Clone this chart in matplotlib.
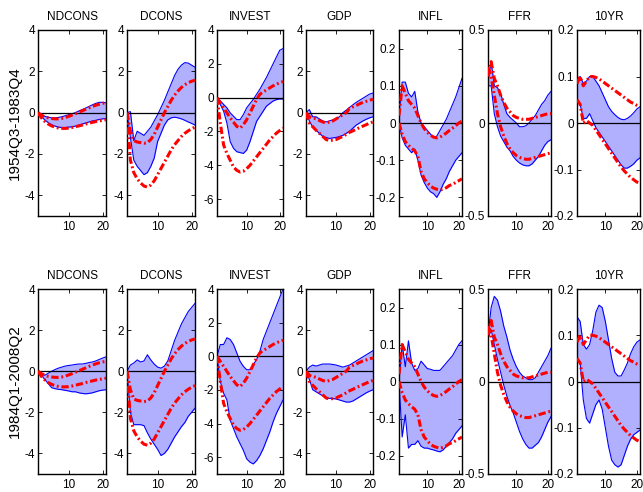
import numpy as np
import matplotlib
matplotlib.use("Agg")
import matplotlib.pyplot as plt
from matplotlib.ticker import FuncFormatter

plt.rcParams['font.family'] = ['Liberation Sans', 'DejaVu Sans']
plt.rcParams['axes.unicode_minus'] = False

# horizon
h = list(range(1, 22))

titles = ["NDCONS", "DCONS", "INVEST", "GDP", "INFL", "FFR", "10YR"]
row_labels = ["1954Q3-1983Q4", "1984Q1-2008Q2"]

# --- model IRFs (red dash-dot, same in both rows) ---
ndcons_red_hi = [0, -0.12, -0.2, -0.25, -0.28, -0.3, -0.3, -0.28, -0.24, -0.18, -0.12, -0.05, 0.02, 0.09, 0.16, 0.23, 0.3, 0.36, 0.41, 0.45, 0.48]
ndcons_red_lo = [0, -0.25, -0.42, -0.55, -0.64, -0.7, -0.74, -0.76, -0.76, -0.75, -0.72, -0.68, -0.64, -0.6, -0.55, -0.51, -0.47, -0.43, -0.4, -0.37, -0.34]
dcons_red_hi = [0, -0.9, -1.35, -1.42, -1.45, -1.48, -1.45, -1.3, -1.05, -0.7, -0.35, 0.0, 0.3, 0.6, 0.85, 1.05, 1.22, 1.35, 1.45, 1.52, 1.57]
dcons_red_lo = [0, -2.3, -2.9, -3.2, -3.4, -3.55, -3.6, -3.5, -3.3, -3.0, -2.7, -2.4, -2.1, -1.8, -1.55, -1.35, -1.15, -1.0, -0.88, -0.78, -0.7]
invest_red_hi = [0, -0.3, -0.6, -0.9, -1.2, -1.45, -1.7, -1.8, -1.6, -1.3, -0.9, -0.5, -0.1, 0.2, 0.35, 0.45, 0.58, 0.7, 0.8, 0.88, 0.95]
invest_red_lo = [0, -1.5, -2.8, -3.3, -3.7, -4.1, -4.3, -4.4, -4.35, -4.2, -4.0, -3.75, -3.5, -3.25, -3.0, -2.75, -2.5, -2.3, -2.1, -1.95, -1.8]
gdp_red_hi = [0, -0.2, -0.25, -0.3, -0.38, -0.45, -0.5, -0.45, -0.4, -0.3, -0.2, -0.1, 0.0, 0.2, 0.28, 0.35, 0.43, 0.5, 0.55, 0.6, 0.65]
gdp_red_lo = [0, -0.5, -0.68, -0.85, -1.0, -1.15, -1.3, -1.35, -1.33, -1.3, -1.22, -1.15, -1.05, -0.95, -0.88, -0.8, -0.72, -0.65, -0.58, -0.5, -0.45]
infl_red_hi = [0.02, 0.1, 0.08, 0.06, 0.05, 0.04, 0.02, 0.0, -0.015, -0.025, -0.033, -0.038, -0.04, -0.038, -0.033, -0.027, -0.02, -0.014, -0.007, 0.0, 0.005]
infl_red_lo = [0.0, -0.03, -0.05, -0.06, -0.068, -0.075, -0.09, -0.13, -0.15, -0.16, -0.17, -0.175, -0.178, -0.18, -0.178, -0.174, -0.168, -0.165, -0.16, -0.155, -0.15]
ffr_red_hi = [0.25, 0.33, 0.24, 0.2, 0.15, 0.11, 0.08, 0.06, 0.04, 0.03, 0.025, 0.02, 0.02, 0.02, 0.025, 0.03, 0.035, 0.04, 0.045, 0.05, 0.05]
ffr_red_lo = [0.3, 0.25, 0.15, 0.05, -0.02, -0.07, -0.11, -0.14, -0.16, -0.175, -0.185, -0.19, -0.195, -0.195, -0.19, -0.185, -0.18, -0.175, -0.17, -0.165, -0.16]
tenyr_red_hi = [0.085, 0.1, 0.08, 0.09, 0.1, 0.1, 0.098, 0.095, 0.09, 0.085, 0.08, 0.075, 0.07, 0.065, 0.06, 0.055, 0.05, 0.045, 0.042, 0.038, 0.035]
tenyr_red_lo = [0.05, 0.04, 0.0, 0.005, 0.0, -0.005, -0.015, -0.025, -0.035, -0.045, -0.055, -0.065, -0.075, -0.085, -0.095, -0.103, -0.11, -0.117, -0.122, -0.127, -0.13]

# --- VAR bands, 1954Q3-1983Q4 ---
ndcons_r1_hi = [0, -0.1, -0.18, -0.22, -0.25, -0.25, -0.23, -0.2, -0.15, -0.1, -0.05, 0.0, 0.08, 0.15, 0.22, 0.3, 0.38, 0.45, 0.5, 0.5, 0.48]
ndcons_r1_lo = [0, -0.2, -0.35, -0.48, -0.58, -0.65, -0.7, -0.72, -0.72, -0.7, -0.68, -0.65, -0.6, -0.55, -0.5, -0.45, -0.4, -0.37, -0.33, -0.3, -0.28]
dcons_r1_hi = [0, 0.05, -1.35, -0.9, -1.0, -1.1, -0.9, -0.7, -0.4, -0.1, 0.25, 0.6, 1.0, 1.4, 1.8, 2.1, 2.3, 2.42, 2.4, 2.3, 2.2]
dcons_r1_lo = [0, -1.2, -2.3, -2.6, -2.8, -3.0, -2.9, -2.6, -2.2, -1.4, -1.0, -0.6, -0.35, -0.25, -0.22, -0.25, -0.3, -0.37, -0.45, -0.52, -0.6]
invest_r1_hi = [0, -0.2, -0.4, -0.6, -0.9, -1.1, -1.3, -1.3, -1.0, -0.6, -0.35, -0.1, 0.2, 0.5, 0.85, 1.2, 1.6, 2.0, 2.4, 2.8, 2.9]
invest_r1_lo = [0, -0.4, -0.8, -1.5, -2.6, -3.0, -3.2, -3.25, -3.3, -3.1, -2.6, -2.0, -1.4, -1.1, -0.8, -0.5, -0.35, -0.2, -0.12, -0.08, -0.08]
gdp_r1_hi = [0, 0.15, -0.2, -0.2, -0.3, -0.4, -0.45, -0.4, -0.35, -0.28, -0.2, 0.0, 0.12, 0.25, 0.38, 0.5, 0.6, 0.7, 0.8, 0.9, 0.95]
gdp_r1_lo = [0, -0.4, -0.7, -0.85, -1.0, -1.15, -1.2, -1.25, -1.22, -1.2, -1.15, -1.1, -1.0, -0.9, -0.75, -0.6, -0.5, -0.4, -0.32, -0.25, -0.2]
infl_r1_hi = [0.02, 0.11, 0.11, 0.08, 0.07, 0.085, 0.03, 0.0, -0.01, -0.02, -0.03, -0.04, -0.035, -0.02, -0.005, 0.01, 0.03, 0.05, 0.07, 0.095, 0.12]
infl_r1_lo = [0.0, -0.04, -0.06, -0.07, -0.08, -0.07, -0.1, -0.14, -0.16, -0.175, -0.185, -0.19, -0.2, -0.185, -0.165, -0.15, -0.13, -0.115, -0.1, -0.09, -0.08]
ffr_r1_hi = [0.22, 0.33, 0.2, 0.19, 0.16, 0.1, 0.05, 0.03, 0.015, 0.0, -0.02, -0.02, -0.015, 0.0, 0.02, 0.04, 0.07, 0.1, 0.12, 0.15, 0.17]
ffr_r1_lo = [0.2, 0.2, 0.05, -0.02, -0.07, -0.1, -0.13, -0.15, -0.18, -0.2, -0.215, -0.225, -0.23, -0.23, -0.22, -0.2, -0.18, -0.15, -0.12, -0.1, -0.09]
tenyr_r1_hi = [0.09, 0.1, 0.085, 0.09, 0.1, 0.1, 0.09, 0.08, 0.065, 0.05, 0.035, 0.025, 0.018, 0.012, 0.008, 0.007, 0.01, 0.015, 0.022, 0.03, 0.035]
tenyr_r1_lo = [0.045, 0.04, 0.01, 0.01, 0.02, 0.005, -0.01, -0.02, -0.03, -0.04, -0.05, -0.06, -0.07, -0.08, -0.09, -0.097, -0.097, -0.093, -0.088, -0.08, -0.075]

# --- VAR bands, 1984Q1-2008Q2 ---
ndcons_r2_hi = [0, -0.1, -0.2, -0.1, 0.0, 0.08, 0.15, 0.2, 0.25, 0.28, 0.3, 0.33, 0.35, 0.35, 0.38, 0.42, 0.45, 0.5, 0.57, 0.64, 0.7]
ndcons_r2_lo = [0, -0.2, -0.4, -0.6, -0.8, -0.85, -0.88, -0.9, -0.93, -0.96, -1.0, -1.0, -1.05, -1.08, -1.1, -1.08, -1.05, -1.0, -0.95, -0.92, -0.9]
dcons_r2_hi = [0, 0.3, 0.4, 0.55, 0.45, 0.5, 0.8, 0.55, 0.35, 0.2, 0.15, 0.25, 0.5, 1.0, 1.5, 1.9, 2.3, 2.6, 2.9, 3.1, 3.3]
dcons_r2_lo = [0, -2.0, -2.6, -2.6, -2.6, -2.65, -3.0, -3.3, -3.55, -3.8, -4.1, -4.0, -3.8, -3.5, -3.2, -2.95, -2.7, -2.5, -2.2, -2.0, -1.8]
invest_r2_hi = [0, 0.7, 0.7, 1.1, 1.0, 0.7, 0.2, -0.3, -0.6, -0.8, -0.8, -0.5, -0.2, 0.3, 1.0, 1.5, 2.0, 2.5, 3.0, 3.5, 4.0]
invest_r2_lo = [0, -1.5, -2.2, -2.6, -3.8, -4.3, -4.8, -5.2, -5.6, -6.1, -6.3, -6.4, -6.2, -5.9, -5.5, -5.0, -4.5, -3.9, -3.4, -3.0, -2.6]
gdp_r2_hi = [0, 0.2, 0.3, 0.25, 0.3, 0.35, 0.35, 0.35, 0.33, 0.3, 0.25, 0.2, 0.25, 0.3, 0.4, 0.5, 0.6, 0.7, 0.8, 0.9, 1.0]
gdp_r2_lo = [0, -0.4, -0.9, -1.0, -1.1, -1.2, -1.3, -1.32, -1.33, -1.35, -1.4, -1.45, -1.5, -1.5, -1.45, -1.35, -1.25, -1.15, -1.05, -0.97, -0.9]
infl_r2_hi = [0.0, 0.1, 0.04, 0.11, 0.05, 0.03, 0.035, 0.055, 0.045, 0.035, 0.033, 0.03, 0.03, 0.03, 0.04, 0.05, 0.06, 0.07, 0.085, 0.1, 0.11]
infl_r2_lo = [0.0, -0.15, -0.09, -0.18, -0.17, -0.17, -0.16, -0.175, -0.18, -0.18, -0.183, -0.185, -0.188, -0.19, -0.185, -0.175, -0.165, -0.155, -0.14, -0.13, -0.12]
ffr_r2_hi = [0.25, 0.4, 0.46, 0.44, 0.38, 0.3, 0.24, 0.17, 0.12, 0.08, 0.05, 0.03, 0.02, 0.01, 0.01, 0.02, 0.05, 0.08, 0.11, 0.14, 0.18]
ffr_r2_lo = [0.23, 0.28, 0.2, 0.12, 0.05, -0.02, -0.08, -0.13, -0.17, -0.22, -0.27, -0.31, -0.34, -0.36, -0.36, -0.345, -0.33, -0.3, -0.26, -0.22, -0.19]
tenyr_r2_hi = [0.14, 0.13, 0.08, 0.07, 0.08, 0.11, 0.15, 0.165, 0.16, 0.13, 0.09, 0.05, 0.02, 0.012, 0.012, 0.025, 0.04, 0.06, 0.075, 0.085, 0.09]
tenyr_r2_lo = [0.05, 0.04, -0.04, -0.08, -0.09, -0.07, -0.05, -0.04, -0.06, -0.1, -0.14, -0.17, -0.18, -0.185, -0.18, -0.16, -0.14, -0.125, -0.115, -0.11, -0.105]

ylims = [(-5, 4), (-5, 4), (-7, 4), (-5, 4), (-0.25, 0.25), (-0.5, 0.5), (-0.2, 0.2)]
yticks = [[-4, -2, 0, 2, 4], [-4, -2, 0, 2, 4], [-6, -4, -2, 0, 2, 4], [-4, -2, 0, 2, 4],
          [-0.2, -0.1, 0, 0.1, 0.2], [-0.5, 0, 0.5], [-0.2, -0.1, 0, 0.1, 0.2]]

red_hi = [ndcons_red_hi, dcons_red_hi, invest_red_hi, gdp_red_hi, infl_red_hi, ffr_red_hi, tenyr_red_hi]
red_lo = [ndcons_red_lo, dcons_red_lo, invest_red_lo, gdp_red_lo, infl_red_lo, ffr_red_lo, tenyr_red_lo]
bands = [
    [(ndcons_r1_lo, ndcons_r1_hi), (dcons_r1_lo, dcons_r1_hi), (invest_r1_lo, invest_r1_hi), (gdp_r1_lo, gdp_r1_hi),
     (infl_r1_lo, infl_r1_hi), (ffr_r1_lo, ffr_r1_hi), (tenyr_r1_lo, tenyr_r1_hi)],
    [(ndcons_r2_lo, ndcons_r2_hi), (dcons_r2_lo, dcons_r2_hi), (invest_r2_lo, invest_r2_hi), (gdp_r2_lo, gdp_r2_hi),
     (infl_r2_lo, infl_r2_hi), (ffr_r2_lo, ffr_r2_hi), (tenyr_r2_lo, tenyr_r2_hi)],
]

W, H = 643, 492
fig = plt.figure(figsize=(W / 100, H / 100), dpi=100)

# axes placement in pixels (left, right), rows (top, bottom)
col_px = [(38, 106), (127, 195), (217, 283), (306, 373), (399, 462), (488, 551), (577, 640)]
row_px = [(30, 216), (289, 474)]

fmt = FuncFormatter(lambda v, p: "%g" % v)
dashdot = (0, (2.4, 0.9, 0.6, 0.9))

for r in range(2):
    top, bot = row_px[r]
    for c in range(7):
        l, rr = col_px[c]
        ax = fig.add_axes([l / W, 1 - bot / H, (rr - l) / W, (bot - top) / H])
        lo, hi = bands[r][c]
        ax.fill_between(h, lo, hi, color="#b0b0ff", lw=0, zorder=1)
        ax.plot(h, lo, color="#0000ff", lw=0.8, zorder=2)
        ax.plot(h, hi, color="#0000ff", lw=0.8, zorder=2)
        ax.axhline(0, color="black", lw=0.9, zorder=3)
        ax.plot(h, red_hi[c], color="red", lw=2.2, ls=dashdot, zorder=4)
        ax.plot(h, red_lo[c], color="red", lw=2.2, ls=dashdot, zorder=4)
        ax.set_xlim(1, 21)
        ax.set_ylim(*ylims[c])
        ax.set_xticks([10, 20])
        ax.set_yticks(yticks[c])
        ax.yaxis.set_major_formatter(fmt)
        ax.tick_params(direction="in", length=3, width=0.6, labelsize=8.5, top=True, right=True, pad=2)
        ax.tick_params(axis="x", pad=3.5)
        for s in ax.spines.values():
            s.set_linewidth(1.0)
        ax.set_title(titles[c], fontsize=8.5, pad=7)
    fig.text(15 / W, 1 - (top + bot) / 2 / H, row_labels[r], rotation=90, fontsize=11,
             ha="center", va="center")

fig.savefig("out.png", dpi=100)
